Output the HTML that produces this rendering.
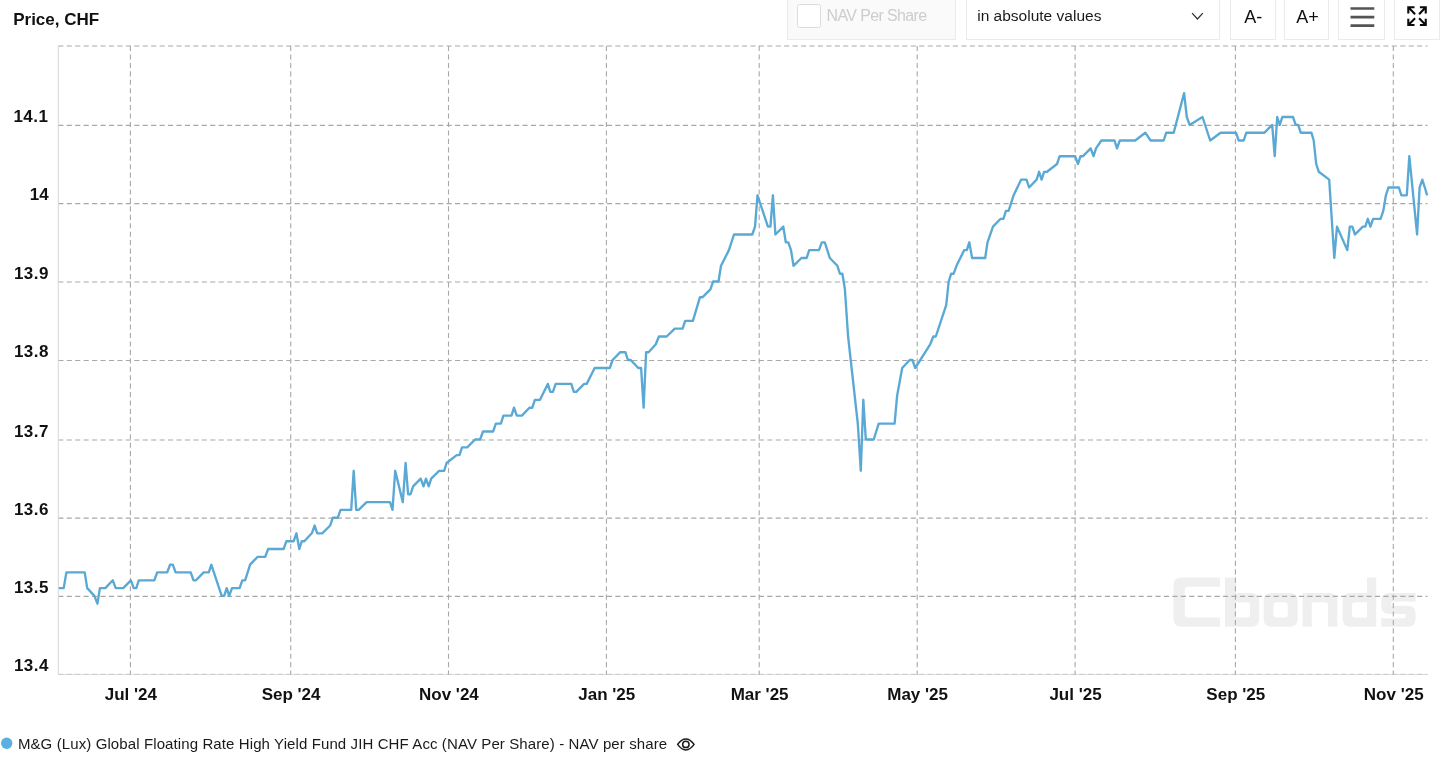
<!DOCTYPE html>
<html><head><meta charset="utf-8"><title>Chart</title>
<style>
html,body{margin:0;padding:0;background:#fff;}
body{width:1440px;height:776px;position:relative;overflow:hidden;font-family:"Liberation Sans",sans-serif;}
.ax{font-family:"Liberation Sans",sans-serif;font-weight:bold;font-size:17px;fill:#111;}
.lg{font-family:"Liberation Sans",sans-serif;font-size:15px;fill:#1a1a1a;}
.tb{font-family:"Liberation Sans",sans-serif;}
.box{position:absolute;top:-4px;height:43.5px;border:1px solid #ebebeb;box-sizing:border-box;}
.cb{position:absolute;left:796.6px;top:3.8px;width:24.4px;height:24.2px;box-sizing:border-box;border:1px solid #dcdcdc;border-radius:2.5px;background:#fff;}
</style></head><body>
<div class="box" style="left:786.6px;width:169.3px;background:#fafafa"></div>
<div class="box" style="left:966.0px;width:253.8px;background:#fff"></div>
<div class="box" style="left:1229.7px;width:46.0px;background:#fff"></div>
<div class="box" style="left:1283.9px;width:45.6px;background:#fff"></div>
<div class="box" style="left:1337.9px;width:47.1px;background:#fff"></div>
<div class="box" style="left:1393.6px;width:46.4px;background:#fff"></div>
<div class="cb"></div>
<svg width="1440" height="776" viewBox="0 0 1440 776" style="position:absolute;left:0;top:0;will-change:transform">
<g fill="#efefef" fill-rule="evenodd">
<path d="M1220.1,577.6 H1181.5 Q1173.5,577.6 1173.5,585.6 V618.8 Q1173.5,626.8 1181.5,626.8 H1220.1 V617.6 H1187.8 Q1184.8,617.6 1184.8,614.6 V589.8 Q1184.8,586.8 1187.8,586.8 H1220.1 Z"/>
<path d="M1224.9,577.6 H1236 V593 H1251.2 Q1259.2,593 1259.2,601 V618.8 Q1259.2,626.8 1251.2,626.8 H1224.9 Z M1236,602.2 V617.6 H1247 Q1250,617.6 1250,614.6 V605.2 Q1250,602.2 1247,602.2 Z"/>
<path d="M1271.6,593 H1289.7 Q1297.7,593 1297.7,601 V618.8 Q1297.7,626.8 1289.7,626.8 H1271.6 Q1263.6,626.8 1263.6,618.8 V601 Q1263.6,593 1271.6,593 Z M1276.5,602.2 Q1273.5,602.2 1273.5,605.2 V614.6 Q1273.5,617.6 1276.5,617.6 H1284.8 Q1287.8,617.6 1287.8,614.6 V605.2 Q1287.8,602.2 1284.8,602.2 Z"/>
<path d="M1302.6,593 H1329.3 Q1337.3,593 1337.3,601 V626.8 H1328.1 V605.2 Q1328.1,602.2 1325.1,602.2 H1311.8 V626.8 H1302.6 Z"/>
<path d="M1376.2,577.6 H1367 V593 H1350.7 Q1342.7,593 1342.7,601 V618.8 Q1342.7,626.8 1350.7,626.8 H1376.2 Z M1367,602.2 H1355 Q1352,602.2 1352,605.2 V614.6 Q1352,617.6 1355,617.6 H1367 Z"/>
<path d="M1415.6,593 H1389.3 Q1381.3,593 1381.3,601 V606.5 Q1381.3,614 1389.3,614 H1404 Q1406,614 1406,616 Q1406,618.3 1404,618.3 H1381.3 V626.8 H1407.6 Q1415.6,626.8 1415.6,618.8 V613.5 Q1415.6,605.7 1407.6,605.7 H1393 Q1391,605.7 1391,603.7 Q1391,601.5 1393,601.5 H1415.6 Z"/>
</g>

<line x1="58.3" y1="46.0" x2="1427.5" y2="46.0" stroke="#a8a8a8" stroke-width="1.2" stroke-dasharray="5.1 3.34"/>
<line x1="58.3" y1="125.4" x2="1427.5" y2="125.4" stroke="#a8a8a8" stroke-width="1.2" stroke-dasharray="5.1 3.34"/>
<line x1="58.3" y1="203.6" x2="1427.5" y2="203.6" stroke="#a8a8a8" stroke-width="1.2" stroke-dasharray="5.1 3.34"/>
<line x1="58.3" y1="282.0" x2="1427.5" y2="282.0" stroke="#a8a8a8" stroke-width="1.2" stroke-dasharray="5.1 3.34"/>
<line x1="58.3" y1="360.5" x2="1427.5" y2="360.5" stroke="#a8a8a8" stroke-width="1.2" stroke-dasharray="5.1 3.34"/>
<line x1="58.3" y1="440.0" x2="1427.5" y2="440.0" stroke="#a8a8a8" stroke-width="1.2" stroke-dasharray="5.1 3.34"/>
<line x1="58.3" y1="518.2" x2="1427.5" y2="518.2" stroke="#a8a8a8" stroke-width="1.2" stroke-dasharray="5.1 3.34"/>
<line x1="58.3" y1="596.4" x2="1427.5" y2="596.4" stroke="#a8a8a8" stroke-width="1.2" stroke-dasharray="5.1 3.34"/>
<line x1="58.3" y1="674.4" x2="1427.5" y2="674.4" stroke="#dcdcdc" stroke-width="1"/>
<line x1="58.3" y1="674.4" x2="1427.5" y2="674.4" stroke="#c8c8c8" stroke-width="1" stroke-dasharray="5.1 3.34"/>
<line x1="130.4" y1="46.0" x2="130.4" y2="674.4" stroke="#a8a8a8" stroke-width="1.1" stroke-dasharray="5.1 3.34"/>
<line x1="290.7" y1="46.0" x2="290.7" y2="674.4" stroke="#a8a8a8" stroke-width="1.1" stroke-dasharray="5.1 3.34"/>
<line x1="448.5" y1="46.0" x2="448.5" y2="674.4" stroke="#a8a8a8" stroke-width="1.1" stroke-dasharray="5.1 3.34"/>
<line x1="606.4" y1="46.0" x2="606.4" y2="674.4" stroke="#a8a8a8" stroke-width="1.1" stroke-dasharray="5.1 3.34"/>
<line x1="759.2" y1="46.0" x2="759.2" y2="674.4" stroke="#a8a8a8" stroke-width="1.1" stroke-dasharray="5.1 3.34"/>
<line x1="917.2" y1="46.0" x2="917.2" y2="674.4" stroke="#a8a8a8" stroke-width="1.1" stroke-dasharray="5.1 3.34"/>
<line x1="1075.1" y1="46.0" x2="1075.1" y2="674.4" stroke="#a8a8a8" stroke-width="1.1" stroke-dasharray="5.1 3.34"/>
<line x1="1235.4" y1="46.0" x2="1235.4" y2="674.4" stroke="#a8a8a8" stroke-width="1.1" stroke-dasharray="5.1 3.34"/>
<line x1="1393.3" y1="46.0" x2="1393.3" y2="674.4" stroke="#a8a8a8" stroke-width="1.1" stroke-dasharray="5.1 3.34"/>
<line x1="58.3" y1="46.0" x2="58.3" y2="674.4" stroke="#d6d6d6" stroke-width="1"/>
<path d="M58.7,588.1 L63.7,588.1 L66.4,572.4 L84.7,572.4 L87.2,588.1 L94.4,595.9 L97.4,603.7 L99.9,588.1 L105.3,588.1 L112.8,580.3 L115.7,588.1 L123.2,588.1 L130.9,580.3 L133.7,588.1 L136.3,588.1 L138.8,580.3 L154.3,580.3 L157.2,572.4 L167.2,572.4 L170.1,564.6 L172.8,564.6 L175.6,572.4 L190.7,572.4 L193.5,580.3 L196.0,580.3 L203.7,572.4 L208.8,572.4 L211.3,564.6 L221.7,595.9 L224.2,595.9 L226.7,588.1 L229.2,595.9 L232.0,588.1 L239.6,588.1 L242.3,580.3 L245.1,580.3 L250.1,564.6 L257.7,556.8 L265.2,556.8 L268.1,549.0 L283.6,549.0 L286.4,541.2 L293.7,541.2 L296.4,533.3 L299.3,549.0 L301.8,541.2 L304.3,541.2 L311.8,533.3 L314.7,525.5 L317.2,533.3 L322.2,533.3 L330.2,525.5 L332.8,517.7 L337.8,517.7 L340.6,509.9 L351.2,509.9 L353.7,470.8 L356.2,509.9 L358.7,509.9 L366.6,502.1 L390.0,502.1 L392.5,509.9 L395.2,470.8 L402.8,502.1 L405.6,463.0 L408.1,494.2 L410.6,494.2 L413.1,486.4 L420.7,478.6 L423.5,486.4 L426.0,478.6 L428.7,486.4 L431.2,478.6 L439.1,470.8 L444.1,470.8 L446.6,463.0 L456.7,455.1 L459.5,455.1 L462.0,447.3 L467.2,447.3 L475.1,439.5 L480.1,439.5 L483.0,431.5 L493.1,431.5 L495.9,423.6 L500.9,423.6 L503.4,415.6 L511.5,415.6 L514.0,407.7 L516.8,415.6 L521.9,415.6 L529.4,407.7 L532.3,407.7 L534.9,399.8 L540.0,399.8 L547.8,383.9 L550.3,391.8 L552.9,391.8 L555.7,383.9 L571.3,383.9 L573.8,391.8 L576.3,391.8 L584.2,383.9 L586.7,383.9 L594.7,368.0 L609.8,368.0 L612.6,360.0 L620.3,352.2 L625.4,352.2 L627.9,360.0 L630.7,360.0 L638.3,368.0 L641.1,368.0 L643.6,407.7 L646.1,352.2 L648.6,352.2 L655.8,344.3 L658.9,336.5 L666.7,336.5 L674.8,328.6 L682.6,328.6 L685.2,320.8 L692.9,320.8 L700.0,297.2 L702.6,297.2 L710.4,289.3 L713.1,281.5 L718.5,281.5 L721.0,265.8 L728.9,250.1 L734.0,234.5 L752.3,234.5 L755.0,226.6 L757.5,195.3 L767.9,226.6 L770.4,226.6 L772.9,195.3 L775.4,234.5 L783.3,226.6 L785.8,242.3 L788.3,242.3 L791.0,250.1 L793.5,265.8 L801.4,258.0 L806.7,258.0 L809.2,250.1 L819.0,250.1 L821.8,242.3 L824.8,242.3 L829.8,258.0 L837.4,265.8 L839.9,273.7 L842.4,273.7 L844.9,289.3 L848.1,336.5 L857.8,423.6 L860.8,470.8 L863.3,399.8 L865.8,439.5 L873.7,439.5 L878.7,423.6 L894.6,423.6 L897.1,395.8 L902.2,368.0 L909.7,360.0 L912.5,360.0 L915.2,368.0 L930.2,344.3 L933.3,336.5 L935.8,336.5 L946.2,305.1 L948.7,281.5 L951.2,273.7 L953.7,273.7 L956.5,265.8 L964.2,250.1 L966.8,250.1 L969.3,242.3 L972.1,258.0 L985.2,258.0 L987.5,242.3 L993.0,226.6 L1000.6,218.8 L1003.4,218.8 L1005.9,210.9 L1008.6,210.9 L1011.1,203.1 L1013.6,195.3 L1021.2,179.6 L1026.5,179.6 L1029.1,187.5 L1036.6,179.6 L1039.1,171.8 L1041.6,179.6 L1044.1,171.8 L1047.0,171.8 L1057.0,164.0 L1059.7,156.2 L1075.1,156.2 L1078.0,164.0 L1080.5,156.2 L1083.0,156.2 L1090.7,148.4 L1093.5,156.2 L1096.0,148.4 L1101.4,140.5 L1114.5,140.5 L1117.0,148.4 L1119.8,140.5 L1135.2,140.5 L1145.3,132.7 L1150.6,140.5 L1163.7,140.5 L1166.2,132.7 L1173.7,132.7 L1184.1,93.1 L1186.8,117.0 L1189.6,124.9 L1202.5,117.0 L1210.2,140.5 L1220.6,132.7 L1236.0,132.7 L1238.7,140.5 L1243.7,140.5 L1246.3,132.7 L1264.5,132.7 L1272.2,124.9 L1274.7,156.2 L1277.2,117.0 L1279.8,124.9 L1282.3,117.0 L1293.0,117.0 L1295.7,124.9 L1298.2,124.9 L1300.7,132.7 L1311.4,132.7 L1313.7,140.5 L1316.2,164.0 L1318.8,171.8 L1329.2,179.6 L1334.3,258.0 L1337.0,226.6 L1347.3,250.1 L1349.8,226.6 L1352.3,226.6 L1355.0,234.5 L1362.8,226.6 L1365.3,226.6 L1367.8,218.8 L1370.4,226.6 L1373.1,218.8 L1380.6,218.8 L1383.3,210.9 L1385.9,195.3 L1388.4,187.5 L1398.9,187.5 L1401.4,195.3 L1406.8,195.3 L1409.3,156.2 L1417.1,234.5 L1419.6,187.5 L1422.3,179.6 L1424.8,187.5 L1427.2,195.3" fill="none" stroke="#5aa9d5" stroke-width="2.35" stroke-linejoin="round" stroke-linecap="butt"/>
<text x="13.4" y="122.1" class="ax" textLength="34.6" lengthAdjust="spacing">14.1</text>
<text x="48.7" y="200.3" text-anchor="end" class="ax">14</text>
<text x="13.9" y="278.7" class="ax" textLength="34.6" lengthAdjust="spacing">13.9</text>
<text x="13.9" y="357.2" class="ax" textLength="34.6" lengthAdjust="spacing">13.8</text>
<text x="13.9" y="436.7" class="ax" textLength="34.6" lengthAdjust="spacing">13.7</text>
<text x="13.9" y="514.9" class="ax" textLength="34.6" lengthAdjust="spacing">13.6</text>
<text x="13.9" y="593.1" class="ax" textLength="34.6" lengthAdjust="spacing">13.5</text>
<text x="13.9" y="671.1" class="ax" textLength="34.6" lengthAdjust="spacing">13.4</text>
<text x="130.8" y="700.4" text-anchor="middle" class="ax">Jul '24</text>
<text x="291.1" y="700.4" text-anchor="middle" class="ax">Sep '24</text>
<text x="448.9" y="700.4" text-anchor="middle" class="ax">Nov '24</text>
<text x="606.8" y="700.4" text-anchor="middle" class="ax">Jan '25</text>
<text x="759.6" y="700.4" text-anchor="middle" class="ax">Mar '25</text>
<text x="917.6" y="700.4" text-anchor="middle" class="ax">May '25</text>
<text x="1075.5" y="700.4" text-anchor="middle" class="ax">Jul '25</text>
<text x="1235.8" y="700.4" text-anchor="middle" class="ax">Sep '25</text>
<text x="1393.7" y="700.4" text-anchor="middle" class="ax">Nov '25</text>
<text x="13.2" y="25.3" class="ax">Price, CHF</text>
<circle cx="6.7" cy="743.3" r="5.7" fill="#5cb0e1"/>
<text x="17.9" y="748.7" class="lg" textLength="649.2" lengthAdjust="spacing">M&amp;G (Lux) Global Floating Rate High Yield Fund JIH CHF Acc (NAV Per Share) - NAV per share</text>
<g fill="none" stroke="#1c1c1c" stroke-width="1.5" stroke-linejoin="round"><path d="M677.6,744.4 C680.5,740.3 683.2,738.9 685.85,738.9 C688.5,738.9 691.2,740.3 694.1,744.4 C691.2,748.5 688.5,749.9 685.85,749.9 C683.2,749.9 680.5,748.5 677.6,744.4 Z"/><circle cx="685.85" cy="744.4" r="3.2"/></g>
<text x="826.6" y="20.8" class="tb" style="font-size:16px;fill:#cdcdcd" textLength="100.6" lengthAdjust="spacing">NAV Per Share</text>
<text x="977.2" y="20.6" class="tb" style="font-size:15.5px;fill:#1a1a1a" textLength="124.2" lengthAdjust="spacing">in absolute values</text>
<text x="1244.2" y="22.8" class="tb" style="font-size:18px;fill:#111">A-</text>
<text x="1296.3" y="22.8" class="tb" style="font-size:18px;fill:#111">A+</text>
<path d="M1192.1,13.1 L1197.45,19 L1202.8,13.1" fill="none" stroke="#333" stroke-width="1.3"/>
<path d="M1350.5,8.5 H1374.3 M1350.5,17.2 H1374.3 M1350.5,25.6 H1374.3" fill="none" stroke="#555" stroke-width="2.7"/>
<g fill="none" stroke="#0a0a0a" stroke-width="2.1" stroke-linejoin="miter"><path d="M1408.3,13.6 V7.25 H1414.5 M1408.6,7.55 L1415.1,14.3"/><path d="M1419.9,7.25 H1425.75 V13.6 M1425.45,7.55 L1419.1,14.3"/><path d="M1408.3,18.8 V25.05 H1414.5 M1408.6,24.75 L1415.1,18.3"/><path d="M1419.9,25.05 H1425.75 V18.8 M1425.45,24.75 L1419.1,18.3"/></g>
</svg>
</body></html>
